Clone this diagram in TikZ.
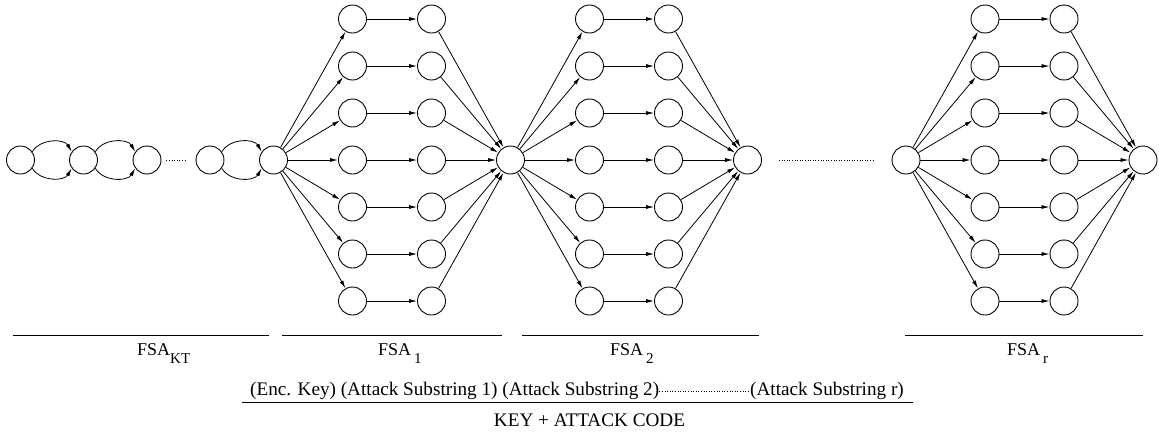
\documentclass[tikz,border=0pt]{standalone}
\usepackage{fontspec}
\setmainfont{Liberation Serif}
\usetikzlibrary{arrows.meta}
\begin{document}
\begin{tikzpicture}[x=1pt,y=-1pt,
  st/.style={circle,draw,line width=0.9pt,minimum size=28pt,inner sep=0pt},
  arr/.style={line width=0.8pt,-{Latex[length=8pt,width=4pt]}},
  rule/.style={line width=0.9pt},
  lbl/.style={font=\fontsize{18}{18}\selectfont, inner sep=0pt, anchor=base west},
  txt/.style={font=\fontsize{19.2}{19.2}\selectfont, inner sep=0pt},
  dots/.style={dotted, line width=0.6pt}]
\useasboundingbox (0,0) rectangle (1159,437);
\newcommand{\subs}[1]{\raisebox{-8pt}{\fontsize{15}{15}\selectfont #1}}
% key chain
\node[st] (k1) at (20.5,160) {};
\node[st] (k2) at (83.5,160) {};
\node[st] (k3) at (147,160) {};
\node[st] (k4) at (210,160) {};
\node[st] (s1) at (273.5,160) {};
\foreach \p/\q in {k1/k2,k2/k3,k4/s1}{
  \draw[arr] (\p.35) to[out=60,in=120] (\q.145);
  \draw[arr] (\p.-35) to[out=-60,in=-120] (\q.-145);
}
\draw[dots,shorten <=5pt,shorten >=10pt] (k3) -- (k4);
% end nodes
\node[st] (e1) at (510.5,160) {};
\node[st] (e2) at (747.5,160) {};
\node[st] (s3) at (906,160) {};
\node[st] (e3) at (1143,160) {};
\draw[dots,shorten <=17pt,shorten >=18pt] (e2) -- (s3);
\foreach \i in {1,...,7}{
  \pgfmathsetmacro{\yy}{160+47*(\i-4)}
  \node[st] (a\i) at (352.5,\yy) {};
  \node[st] (b\i) at (431.5,\yy) {};
  \node[st] (c\i) at (589.5,\yy) {};
  \node[st] (d\i) at (668.5,\yy) {};
  \node[st] (f\i) at (985,\yy) {};
  \node[st] (g\i) at (1064,\yy) {};
  \draw[arr] (s1) -- (a\i);
  \draw[arr] (a\i) -- (b\i);
  \draw[arr] (b\i) -- (e1);
  \draw[arr] (e1) -- (c\i);
  \draw[arr] (c\i) -- (d\i);
  \draw[arr] (d\i) -- (e2);
  \draw[arr] (s3) -- (f\i);
  \draw[arr] (f\i) -- (g\i);
  \draw[arr] (g\i) -- (e3);
}
% rules and labels
\draw[rule] (12.7,335) -- (269,335);
\draw[rule] (282,335) -- (502,335);
\draw[rule] (522,335) -- (759,335);
\draw[rule] (905,335) -- (1143,335);
\node[lbl] (l0) at (137,355) {FSA\subs{KT}};
\node[lbl] (l1) at (378,355) {FSA\hspace{3pt}\subs{1}};
\node[lbl] (l2) at (610,355) {FSA\hspace{3pt}\subs{2}};
\node[lbl] (l3) at (1007,355) {FSA\hspace{3pt}\subs{r}};
\node[txt,anchor=base west] (t1) at (250,395) {(Enc. Key) (Attack Substring 1) (Attack Substring 2)};
\node[txt,anchor=base east] (t2) at (904,395) {(Attack Substring r)};
\draw[dots] ([yshift=4pt]t1.base east) -- ([yshift=4pt]t2.base west);
\draw[rule] (242,402) -- (913,402);
\node[txt,anchor=base] (t3) at (589.5,426) {KEY + ATTACK CODE};
\end{tikzpicture}
\end{document}
